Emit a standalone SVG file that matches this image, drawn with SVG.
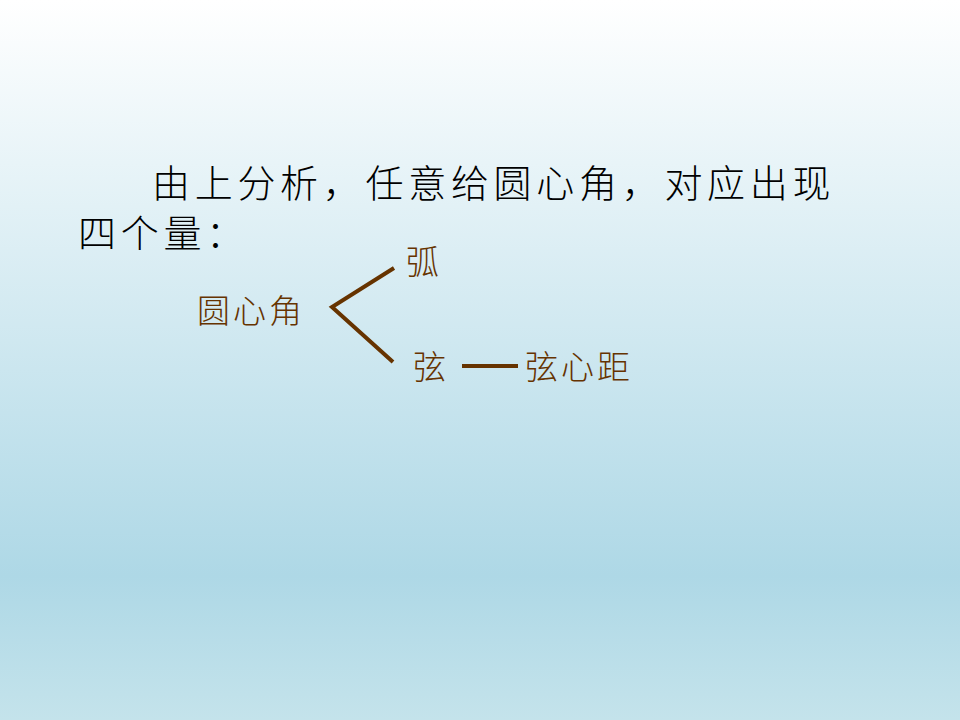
<svg xmlns="http://www.w3.org/2000/svg" width="960" height="720" viewBox="0 0 960 720">
<defs>
<linearGradient id="bg" x1="0" y1="0" x2="0" y2="1">
<stop offset="0" stop-color="#ffffff"/>
<stop offset="0.8" stop-color="#aed8e6"/>
<stop offset="1" stop-color="#c4e3eb"/>
</linearGradient>
<style>
.t{font-family:"Noto Sans CJK SC","Liberation Sans",sans-serif;font-weight:300;}
.h{font-size:38px;fill:#000000;letter-spacing:4.7px;}
.b{font-size:33px;fill:#663300;letter-spacing:3px;}
.c{stroke:#663300;stroke-width:4;fill:none;}
</style>
</defs>
<rect width="960" height="720" fill="url(#bg)"/>
<g id="heading">
<text class="t h" x="152" y="197">由上分析，任意给圆心角，对应出现</text>
<text class="t h" x="78" y="247" letter-spacing="3">四个量：</text>
</g>
<g id="node-angle"><text class="t b" x="197" y="323">圆心角</text></g>
<g id="node-arc"><text class="t b" x="406" y="274">弧</text></g>
<g id="node-chord"><text class="t b" x="413" y="379">弦</text></g>
<g id="node-distance"><text class="t b" x="525" y="379">弦心距</text></g>
<g id="connectors">
<polyline class="c" points="394,268 332,307 393,362"/>
<line class="c" x1="462" y1="366" x2="518" y2="366"/>
</g>
</svg>
